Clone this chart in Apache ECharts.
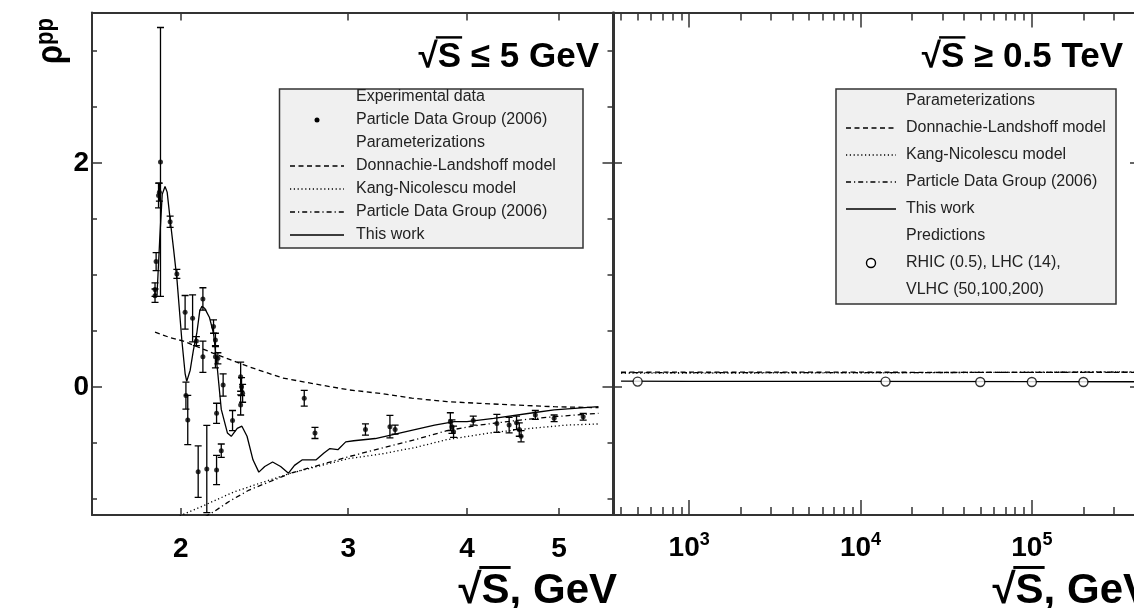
<!DOCTYPE html>
<html><head><meta charset="utf-8">
<script src="https://cdn.jsdelivr.net/npm/echarts@6/dist/echarts.min.js"></script>
<style>html,body{margin:0;padding:0;background:#fff;}#c{width:1134px;height:608px;}</style>
</head><body><div id="c"></div>
<script>
// ---------------- data ----------------
const xRangeLow = [1.613, 5.69];        // sqrt(s), GeV (left panel)
const xRangeHigh = [364, 400000];        // sqrt(s), GeV (right panel)
const yRange = [-1.143, 3.344];
const lowTicks = [2, 3, 4, 5];
const highMajorTicks = [1000, 10000, 100000];
const highMinorTicks = [400, 500, 600, 700, 800, 900, 2000, 3000, 4000, 5000, 6000, 7000, 8000, 9000,
  20000, 30000, 40000, 50000, 60000, 70000, 80000, 90000, 200000, 300000];
const yMajorTicks = [0, 2];
const yMinorTicks = [-1, -0.5, 0.5, 1, 1.5, 2.5, 3];

// Particle Data Group (2006) experimental points: [sqrt(s), rho, error]
const pdgPoints = [
  [1.879, 0.87, 0.06], [1.879, 0.815, 0.06], [1.884, 1.12, 0.08], [1.895, 1.71, 0.11],
  [1.899, 1.74, 0.08], [1.904, 2.01, 1.2], [1.949, 1.476, 0.05], [1.981, 1.01, 0.04],
  [2.021, 0.667, 0.15], [2.025, -0.077, 0.12], [2.034, -0.295, 0.22], [2.058, 0.613, 0.21],
  [2.077, 0.41, 0.04], [2.086, -0.756, 0.23], [2.110, 0.786, 0.10], [2.110, 0.27, 0.14],
  [2.130, -0.732, 0.39], [2.165, 0.54, 0.06], [2.175, 0.42, 0.06], [2.175, 0.27, 0.10],
  [2.181, -0.235, 0.09], [2.181, -0.741, 0.13], [2.188, 0.256, 0.05], [2.206, -0.569, 0.06],
  [2.216, 0.018, 0.10], [2.267, -0.30, 0.09], [2.312, 0.092, 0.13], [2.317, 0.003, 0.08],
  [2.323, -0.056, 0.08], [2.312, -0.16, 0.09], [2.697, -0.10, 0.07], [2.768, -0.41, 0.05],
  [3.128, -0.38, 0.05], [3.319, -0.354, 0.10], [3.361, -0.38, 0.04], [3.842, -0.31, 0.08],
  [3.857, -0.354, 0.06], [3.872, -0.40, 0.05], [4.061, -0.30, 0.04], [4.30, -0.325, 0.08],
  [4.43, -0.34, 0.07], [4.51, -0.32, 0.06], [4.54, -0.38, 0.06], [4.56, -0.44, 0.05],
  [4.72, -0.25, 0.04], [4.94, -0.28, 0.03], [5.30, -0.265, 0.03]
];

// curves, left panel
const thisWorkLow = [
  [1.888, 0.82], [1.900, 1.30], [1.912, 1.72], [1.925, 1.79], [1.935, 1.74], [1.950, 1.48],
  [1.966, 1.22], [1.982, 0.95], [2.005, 0.42], [2.021, 0.12], [2.029, 0.05], [2.046, 0.15],
  [2.062, 0.33], [2.079, 0.48], [2.094, 0.68], [2.105, 0.72], [2.120, 0.70], [2.144, 0.62],
  [2.165, 0.48], [2.186, 0.15], [2.206, -0.20], [2.239, -0.41], [2.260, -0.44], [2.293, -0.37],
  [2.319, -0.35], [2.348, -0.44], [2.382, -0.65], [2.416, -0.76], [2.451, -0.71], [2.498, -0.67],
  [2.547, -0.71], [2.596, -0.77], [2.634, -0.70], [2.685, -0.65], [2.776, -0.65], [2.829, -0.59],
  [2.870, -0.55], [2.926, -0.56], [2.982, -0.49], [3.040, -0.48], [3.204, -0.46], [3.361, -0.42],
  [3.525, -0.38], [3.698, -0.34], [3.879, -0.31], [4.000, -0.31], [4.267, -0.28], [4.696, -0.23],
  [4.94, -0.205], [5.50, -0.176]
];
const dlLow = [
  [1.879, 0.49], [1.95, 0.44], [2.013, 0.41], [2.18, 0.29], [2.36, 0.18], [2.56, 0.08],
  [2.82, 0.015], [3.0, -0.025], [3.26, -0.06], [3.50, -0.10], [3.81, -0.13], [4.12, -0.146],
  [4.47, -0.16], [4.94, -0.176], [5.50, -0.185]
];
const knLow = [
  [1.995, -1.15], [2.1, -1.07], [2.27, -0.94], [2.42, -0.86], [2.61, -0.77], [3.0, -0.64],
  [3.24, -0.60], [3.53, -0.54], [3.81, -0.47], [4.23, -0.41], [4.66, -0.37], [5.09, -0.34], [5.5, -0.33]
];
const pdgLow = [
  [2.12, -1.16], [2.17, -1.11], [2.25, -1.02], [2.36, -0.92], [2.61, -0.77], [2.87, -0.67],
  [3.01, -0.62], [3.24, -0.55], [3.53, -0.47], [3.81, -0.39], [4.12, -0.34], [4.55, -0.295],
  [4.94, -0.265], [5.5, -0.235]
];

// curves, right panel
const thisWorkHigh = [[400, 0.052], [1000, 0.051], [10000, 0.05], [100000, 0.048], [400000, 0.047]];
const dlHigh = [[400, 0.133], [10000, 0.132], [100000, 0.130], [400000, 0.130]];
const knHigh = [[400, 0.124], [10000, 0.126], [50000, 0.130], [400000, 0.136]];
const pdgHigh = [[400, 0.128], [10000, 0.128], [50000, 0.130], [400000, 0.133]];
// predictions: RHIC (0.5 TeV), LHC (14 TeV), VLHC (50, 100, 200 TeV)
const predictions = [[500, 0.048], [14000, 0.048], [50000, 0.045], [100000, 0.045], [200000, 0.045]];

// texts
const titleLow = '√S ≤ 5 GeV';
const titleHigh = '√S ≥ 0.5 TeV';
const xTitle = '√S, GeV';
const legendLowTexts = ['Experimental data', 'Particle Data Group (2006)', 'Parameterizations',
  'Donnachie-Landshoff model', 'Kang-Nicolescu model', 'Particle Data Group (2006)', 'This work'];
const legendHighTexts = ['Parameterizations', 'Donnachie-Landshoff model', 'Kang-Nicolescu model',
  'Particle Data Group (2006)', 'This work', 'Predictions', 'RHIC (0.5), LHC (14),', 'VLHC (50,100,200)'];

// ---------------- styles / layout ----------------
const FONT = '"Liberation Sans", Arial, Helvetica, sans-serif';
const AX = '#333';
const DASH = [5, 3.5], DOT = [1.2, 2.6], DASHDOT = [5, 3, 1.2, 3];
const LW = 1.3;
const gridL = {left: 92, top: 12.5, width: 520.5, height: 502.5};
const gridR = {left: 614, top: 12.5, width: 521, height: 502.5};

const lg = a => a.map(v => Math.log10(v));
const lgL = lg(xRangeLow), lgR = lg(xRangeHigh);
function measure(txt, font) { const c = document.createElement('canvas').getContext('2d'); c.font = font; return c.measureText(txt).width; }

const aLine = show => ({show, onZero: false, lineStyle: {color: AX, width: 2}});
const aTick = (vals, len) => ({show: true, inside: true, length: len, customValues: vals, lineStyle: {color: AX, width: 1.5}});
const off = {show: false};
function vAxis(gridIndex, position, range, line, tick, label) {
  return {gridIndex, type: 'value', position, min: range[0], max: range[1],
    axisLine: aLine(line), axisTick: tick || off, axisLabel: label || off,
    splitLine: off, minorTick: off, minorSplitLine: off};
}
const boldLabel = (vals, margin, extra) => Object.assign({show: true, customValues: vals, margin, color: '#000',
  fontSize: 28, fontWeight: 'bold', fontFamily: FONT, lineHeight: 28}, extra || {});

const xAxis = [
  // 0: left data axis (log)
  {gridIndex: 0, type: 'log', logBase: 10, position: 'bottom', min: xRangeLow[0], max: xRangeLow[1],
   axisLine: aLine(true), axisTick: off, axisLabel: off, splitLine: off, minorTick: off},
  // 1: left top frame
  vAxis(0, 'top', lgL, true, aTick(lg(lowTicks), 8)),
  // 2: left bottom ticks + labels
  vAxis(1, 'bottom', lgL, false, aTick(lg(lowTicks), 7),
    boldLabel(lg(lowTicks), 20, {formatter: v => String(Math.round(Math.pow(10, v)))})),
  // 3: right data axis (log)
  {gridIndex: 2, type: 'log', logBase: 10, position: 'bottom', min: xRangeHigh[0], max: xRangeHigh[1],
   axisLine: aLine(true), axisTick: off, axisLabel: off, splitLine: off, minorTick: off},
  // 4: right top frame + major ticks
  vAxis(2, 'top', lgR, true, aTick(lg(highMajorTicks), 15)),
  // 5: right bottom major ticks + labels
  vAxis(3, 'bottom', lgR, false, aTick(lg(highMajorTicks), 15),
    boldLabel(lg(highMajorTicks), 16, {
      formatter: v => '{b|10}{s|' + Math.round(v) + '}',
      rich: {b: {fontSize: 28, fontWeight: 'bold', fontFamily: FONT, color: '#000', lineHeight: 34},
             s: {fontSize: 18, fontWeight: 'bold', fontFamily: FONT, color: '#000', lineHeight: 18, verticalAlign: 'top'}}
    })),
  // 6: right top minor ticks
  vAxis(3, 'top', lgR, false, aTick(lg(highMinorTicks), 8)),
  // 7: right bottom minor ticks
  vAxis(4, 'bottom', lgR, false, aTick(lg(highMinorTicks), 8))
];
const yAxis = [
  vAxis(0, 'left', yRange, true, aTick(yMajorTicks, 10), boldLabel(yMajorTicks, 3)),   // 0 left data
  vAxis(0, 'right', yRange, true, aTick(yMajorTicks, 10)),                              // 1
  vAxis(1, 'left', yRange, false, aTick(yMinorTicks, 5)),                               // 2
  vAxis(1, 'right', yRange, false, aTick(yMinorTicks, 5)),                              // 3
  vAxis(2, 'left', yRange, true, aTick(yMajorTicks, 8)),                                // 4 right data
  vAxis(2, 'right', yRange, true, aTick(yMajorTicks, 5)),                               // 5
  Object.assign(vAxis(3, 'left', yRange, false), {show: false}),                        // 6
  Object.assign(vAxis(4, 'left', yRange, false), {show: false})                         // 7
];

function curve(name, data, xi, yi, dash) {
  return {name, type: 'line', xAxisIndex: xi, yAxisIndex: yi, data, symbol: 'none', showSymbol: false,
    clip: true, silent: true, lineStyle: {color: '#000', width: LW, type: dash || 'solid'}, z: 3};
}
const errorBars = {
  type: 'custom', xAxisIndex: 0, yAxisIndex: 0, clip: true, silent: true, data: pdgPoints,
  encode: {x: 0, y: [1, 2]},
  renderItem(params, api) {
    const x = api.value(0), y = api.value(1), e = api.value(2);
    const p1 = api.coord([x, y + e]), p2 = api.coord([x, y - e]);
    const w = 3.5, st = {stroke: '#000', lineWidth: 1.3};
    return {type: 'group', children: [
      {type: 'line', shape: {x1: p1[0], y1: p1[1], x2: p2[0], y2: p2[1]}, style: st},
      {type: 'line', shape: {x1: p1[0] - w, y1: p1[1], x2: p1[0] + w, y2: p1[1]}, style: st},
      {type: 'line', shape: {x1: p2[0] - w, y1: p2[1], x2: p2[0] + w, y2: p2[1]}, style: st}
    ]};
  }, z: 4
};

const series = [
  curve('DL low', dlLow, 0, 0, DASH),
  curve('KN low', knLow, 0, 0, DOT),
  curve('PDG low', pdgLow, 0, 0, DASHDOT),
  curve('This work low', thisWorkLow, 0, 0, 'solid'),
  errorBars,
  {type: 'scatter', xAxisIndex: 0, yAxisIndex: 0, data: pdgPoints, symbol: 'circle', symbolSize: 5,
   itemStyle: {color: '#000'}, silent: true, z: 5},
  curve('DL high', dlHigh, 3, 4, DASH),
  curve('KN high', knHigh, 3, 4, DOT),
  curve('PDG high', pdgHigh, 3, 4, DASHDOT),
  curve('This work high', thisWorkHigh, 3, 4, 'solid'),
  {type: 'scatter', xAxisIndex: 3, yAxisIndex: 4, data: predictions, symbol: 'circle', symbolSize: 9,
   itemStyle: {color: '#fff', borderColor: '#000', borderWidth: 1.4}, silent: true, z: 5}
];

// ---------------- graphic: titles, legends ----------------
const G = [];
function rootText(text, rightX, midY, size) {
  const font = 'bold ' + size + 'px ' + FONT;
  const W = measure(text, font), wr = measure('√', font), ws = measure('S', font);
  const left = rightX - W;
  G.push({type: 'text', x: rightX, y: midY, style: {text, font, fill: '#000', align: 'right', verticalAlign: 'middle'}});
  const yTop = midY - size * 0.56;
  G.push({type: 'line', shape: {x1: left + wr * 0.9, y1: yTop, x2: left + wr + ws + 1, y2: yTop},
    style: {stroke: '#000', lineWidth: Math.max(2, size * 0.07)}});
}
rootText(titleLow, 599, 57, 35);
rootText(titleHigh, 1123, 57, 35);
rootText(xTitle, 617, 591, 42);
rootText(xTitle, 1151, 591, 42);

G.push({type: 'text', x: 52, y: 64, rotation: Math.PI / 2, scaleX: 0.85,
  style: {text: '{r|ρ}{s|pp}', align: 'left', verticalAlign: 'middle',
    rich: {r: {fontSize: 36, fontWeight: 'bold', fontFamily: FONT, fill: '#000', lineHeight: 38},
           s: {fontSize: 26, fontWeight: 'bold', fontFamily: FONT, fill: '#000', lineHeight: 24, verticalAlign: 'top'}}}});

const LFONT = '16px ' + FONT;
function legendBox(x, y, w, h) {
  G.push({type: 'rect', shape: {x, y, width: w, height: h}, style: {fill: '#f0f0f0', stroke: AX, lineWidth: 1.5}});
}
function legendText(text, x, y) {
  G.push({type: 'text', x, y, style: {text, font: LFONT, fill: '#222', align: 'left', verticalAlign: 'middle'}});
}
function legendLine(x1, x2, y, dash) {
  G.push({type: 'line', shape: {x1, y1: y, x2, y2: y}, style: {stroke: '#000', lineWidth: LW, lineDash: dash || null}});
}
// left legend
legendBox(279.5, 89, 303.5, 159);
const rowsL = [97, 120, 143, 166, 189, 212, 235];
legendLowTexts.forEach((t, i) => legendText(t, 356, rowsL[i]));
G.push({type: 'circle', shape: {cx: 317, cy: rowsL[1], r: 2.5}, style: {fill: '#000'}});
legendLine(290, 344, rowsL[3], DASH);
legendLine(290, 344, rowsL[4], DOT);
legendLine(290, 344, rowsL[5], DASHDOT);
legendLine(290, 344, rowsL[6]);
// right legend
legendBox(836, 89, 280, 215);
const rowsR = [101, 128, 155, 182, 209, 236, 263, 290];
legendHighTexts.forEach((t, i) => legendText(t, 906, rowsR[i]));
legendLine(846, 896, rowsR[1], DASH);
legendLine(846, 896, rowsR[2], DOT);
legendLine(846, 896, rowsR[3], DASHDOT);
legendLine(846, 896, rowsR[4]);
G.push({type: 'circle', shape: {cx: 871, cy: rowsR[6], r: 4.5}, style: {fill: '#fff', stroke: '#000', lineWidth: 1.4}});

const gridBase = {outerBoundsMode: 'none', containLabel: false, show: false};
const option = {
  animation: false,
  backgroundColor: '#fff',
  grid: [gridL, gridL, gridR, gridR, gridR].map(g => Object.assign({}, gridBase, g)),
  xAxis, yAxis, series,
  graphic: {elements: G.map(e => Object.assign({z: 100}, e))}
};
const chart = echarts.init(document.getElementById('c'), null, {renderer: 'canvas'});
chart.setOption(option);
</script></body></html>
